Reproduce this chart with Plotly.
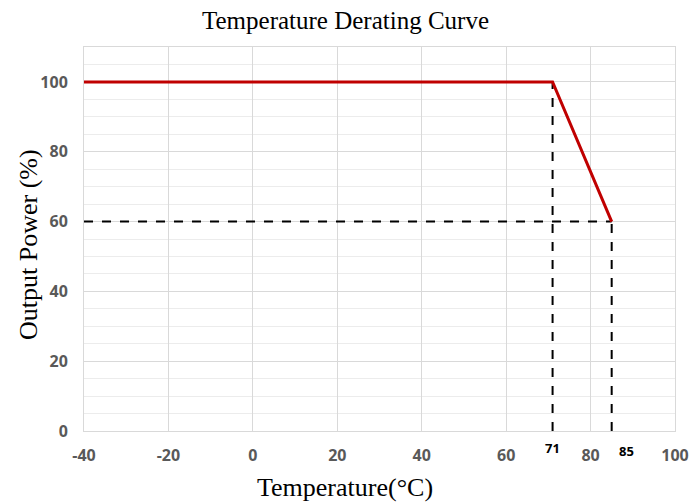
import plotly.graph_objects as go

# Data
temps = [-40, 71, 85]
power = [100, 100, 60]
x_ticks = [-40, -20, 0, 20, 40, 60, 80, 100]
y_ticks = [0, 20, 40, 60, 80, 100]
marked_temps = [71, 85]

fig = go.Figure()

# Dashed reference lines
fig.add_trace(go.Scatter(x=[temps[0], temps[2]], y=[power[2], power[2]], mode="lines",
                         line=dict(color="black", width=2, dash="dash"), hoverinfo="skip"))
fig.add_trace(go.Scatter(x=[temps[1], temps[1]], y=[0, power[1]], mode="lines",
                         line=dict(color="black", width=2, dash="dash"), hoverinfo="skip"))
fig.add_trace(go.Scatter(x=[temps[2], temps[2]], y=[0, power[2]], mode="lines",
                         line=dict(color="black", width=2, dash="dash"), hoverinfo="skip"))

# Derating curve
fig.add_trace(go.Scatter(x=temps, y=power, mode="lines",
                         line=dict(color="#C00000", width=3), hoverinfo="skip"))

tickfont = dict(family="Open Sans, Liberation Sans, Arial", size=16, color="#595959")

L, R, T, B = 84, 16, 47, 71
PW, PH = 691 - L - R, 502 - T - B

def px_x(px):
    return (px - L) / PW

def px_y(py):
    return (502 - B - py) / PH

fig.update_layout(
    width=691, height=502,
    margin=dict(l=L, r=R, t=T, b=B, autoexpand=False),
    plot_bgcolor="white", paper_bgcolor="white",
    showlegend=False,
    xaxis=dict(range=[-40, 100], tickvals=x_ticks, ticktext=[f"<b>{v}</b>" for v in x_ticks],
               tickfont=tickfont, showgrid=True, gridcolor="#d9d9d9", gridwidth=1,
               zeroline=False, showline=True, linecolor="#d9d9d9", mirror=True,
               ticks="", ticklabelstandoff=10, automargin=False),
    yaxis=dict(range=[0, 110], tickvals=y_ticks, ticktext=[f"<b>{v}</b>" for v in y_ticks],
               tickfont=tickfont, showgrid=True, gridcolor="#d9d9d9", gridwidth=1,
               minor=dict(dtick=5, showgrid=True, gridcolor="#ececec", gridwidth=1),
               zeroline=False, showline=True, linecolor="#d9d9d9", mirror=True,
               ticks="", ticklabelstandoff=12, automargin=False),
)

serif = dict(family="Liberation Serif, Times New Roman", size=26, color="black")
annotations = [
    dict(text="Temperature Derating Curve", x=px_x(345), y=px_y(20), xref="paper", yref="paper",
         xanchor="center", yanchor="middle", showarrow=False,
         font=dict(family="Liberation Serif, Times New Roman", size=25, color="black")),
    dict(text="Temperature(°C)", x=px_x(345), y=px_y(487), xref="paper", yref="paper",
         xanchor="center", yanchor="middle", showarrow=False, font=serif),
    dict(text="Output Power (%)", x=px_x(28), y=px_y(245), xref="paper", yref="paper",
         xanchor="center", yanchor="middle", textangle=-90, showarrow=False, font=serif),
]
label_shift = {71: (0, 448), 85: (15, 451)}
for t in marked_temps:
    dx, py = label_shift[t]
    annotations.append(dict(text=f"<b>{t}</b>", x=t, xref="x", y=px_y(py), yref="paper",
                            xanchor="center", yanchor="middle", showarrow=False, xshift=dx,
                            font=dict(family="Open Sans, Liberation Sans, Arial", size=13, color="black")))
fig.update_layout(annotations=annotations)

fig.write_html("out.html", config={"displayModeBar": False},
               post_script="document.body.style.margin='0';")
